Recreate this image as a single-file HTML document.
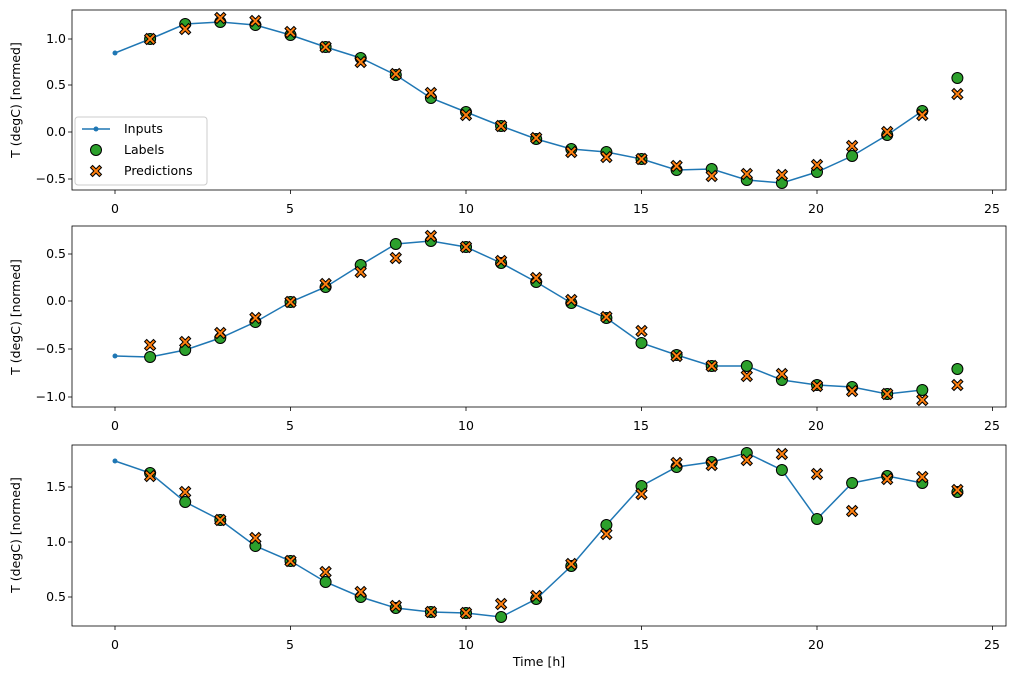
<!DOCTYPE html>
<html><head><meta charset="utf-8"><style>
html,body{margin:0;padding:0;background:#fff}
svg{display:block;font-family:"DejaVu Sans","Liberation Sans",sans-serif}
</style></head><body>
<svg id="s" width="1014" height="679" viewBox="0 0 1014 679" xmlns="http://www.w3.org/2000/svg">
<rect width="1014" height="679" fill="#fff"/>
<g font-size="12.5" fill="#000">
<text x="66" y="43" text-anchor="end">1.0</text>
<text x="66" y="89" text-anchor="end">0.5</text>
<text x="66" y="136" text-anchor="end">0.0</text>
<text x="66" y="183" text-anchor="end">−0.5</text>
<text transform="translate(20,100) rotate(-90)" text-anchor="middle">T (degC) [normed]</text>
<text x="66" y="258" text-anchor="end">0.5</text>
<text x="66" y="305" text-anchor="end">0.0</text>
<text x="66" y="353" text-anchor="end">−0.5</text>
<text x="66" y="401" text-anchor="end">−1.0</text>
<text transform="translate(20,317) rotate(-90)" text-anchor="middle">T (degC) [normed]</text>
<text x="66" y="491" text-anchor="end">1.5</text>
<text x="66" y="546" text-anchor="end">1.0</text>
<text x="66" y="601" text-anchor="end">0.5</text>
<text transform="translate(20,535) rotate(-90)" text-anchor="middle">T (degC) [normed]</text>
<g text-anchor="middle">
<text x="115" y="213">0</text><text x="290" y="213">5</text><text x="466" y="213">10</text><text x="641" y="213">15</text><text x="816" y="213">20</text><text x="992" y="213">25</text>
<text x="115" y="430">0</text><text x="290" y="430">5</text><text x="466" y="430">10</text><text x="641" y="430">15</text><text x="816" y="430">20</text><text x="992" y="430">25</text>
<text x="115" y="649">0</text><text x="290" y="649">5</text><text x="466" y="649">10</text><text x="641" y="649">15</text><text x="816" y="649">20</text><text x="992" y="649">25</text>
<text x="539" y="666">Time [h]</text>
</g>
</g>
<g id="data"></g>
<g id="frames" fill="none" stroke="#000" stroke-width="0.8">
<rect x="72" y="10" width="934" height="180"/>
<rect x="72" y="226" width="934" height="181"/>
<rect x="72" y="445" width="934" height="181"/>
</g>
<g id="legend">
<rect x="75" y="117" width="132" height="68" rx="3" fill="#fff" fill-opacity="0.8" stroke="#ccc"/>
<line x1="82" y1="129" x2="110" y2="129" stroke="#1f77b4" stroke-width="1.5"/>
<circle cx="96" cy="129" r="2.5" fill="#1f77b4"/>
<circle cx="96" cy="150" r="5.5" fill="#2ca02c" stroke="#000" stroke-width="1"/>
<path id="lx" d="" fill="#ff7f0e" stroke="#000" stroke-width="1"/>
<g font-size="12.5"><text x="124" y="133">Inputs</text><text x="124" y="154">Labels</text><text x="124" y="175">Predictions</text></g>
</g>
</svg>
<script>
var P=[
{inp:[53,39,24,22,25,35,47,58,75,98,112,126,139,149,152,159,170,169,180,183,172,156,135,111],l24:78,
pr:[39,29,18,21,32,47,62,74,93,115,126,138,152,157,159,166,176,174,175,165,146,132,115,94],yb:190},
{inp:[356,357,350,338,322,302,287,265,244,241,247,263,282,303,318,343,355,366,366,380,385,387,394,390],l24:369,
pr:[345,342,333,318,302,284,272,258,236,247,261,278,300,317,331,356,366,376,374,386,391,394,400,385],yb:407},
{inp:[461,473,502,520,546,561,582,597,608,612,613,617,599,566,525,486,467,462,453,470,519,483,476,483],l24:492,
pr:[476,492,520,538,561,572,592,606,612,613,604,596,564,534,494,463,465,460,454,474,511,479,477,490],yb:626}];
function X(i){return 115+35.1*i}
function xm(cx,cy){var s=5.5,w=2.1;var p=[[0,-w],[s-w,-s],[s,-s+w],[w,0],[s,s-w],[s-w,s],[0,w],[-s+w,s],[-s,s-w],[-w,0],[-s,-s+w],[-s+w,-s]];
return "M"+p.map(function(q){return (cx+q[0]).toFixed(1)+","+(cy+q[1]).toFixed(1)}).join("L")+"Z";}
var h="";
P.forEach(function(d,k){
 for(var i=0;i<=25;i+=5){h+='<line x1="'+X(i)+'" y1="'+d.yb+'" x2="'+X(i)+'" y2="'+(d.yb+4)+'" stroke="#000" stroke-width="0.8"/>';}
 var pts=d.inp.map(function(y,i){return X(i)+","+y}).join(" ");
 h+='<polyline points="'+pts+'" fill="none" stroke="#1f77b4" stroke-width="1.5"/>';
 d.inp.forEach(function(y,i){h+='<circle cx="'+X(i)+'" cy="'+y+'" r="2.5" fill="#1f77b4"/>';});
 var lab=d.inp.slice(1).concat([d.l24]);
 lab.forEach(function(y,i){h+='<circle cx="'+X(i+1)+'" cy="'+y+'" r="5.5" fill="#2ca02c" stroke="#000" stroke-width="1"/>';});
 d.pr.forEach(function(y,i){h+='<path d="'+xm(X(i+1),y)+'" fill="#ff7f0e" stroke="#000" stroke-width="1"/>';});
});
var yt=[[39,85,132,179],[254,301,349,397],[487,542,597]];
yt.forEach(function(a){a.forEach(function(y){h+='<line x1="68" y1="'+y+'" x2="72" y2="'+y+'" stroke="#000" stroke-width="0.8"/>';});});
document.getElementById("data").innerHTML=h;
document.getElementById("lx").setAttribute("d",xm(96,171));
</script>
</body></html>
